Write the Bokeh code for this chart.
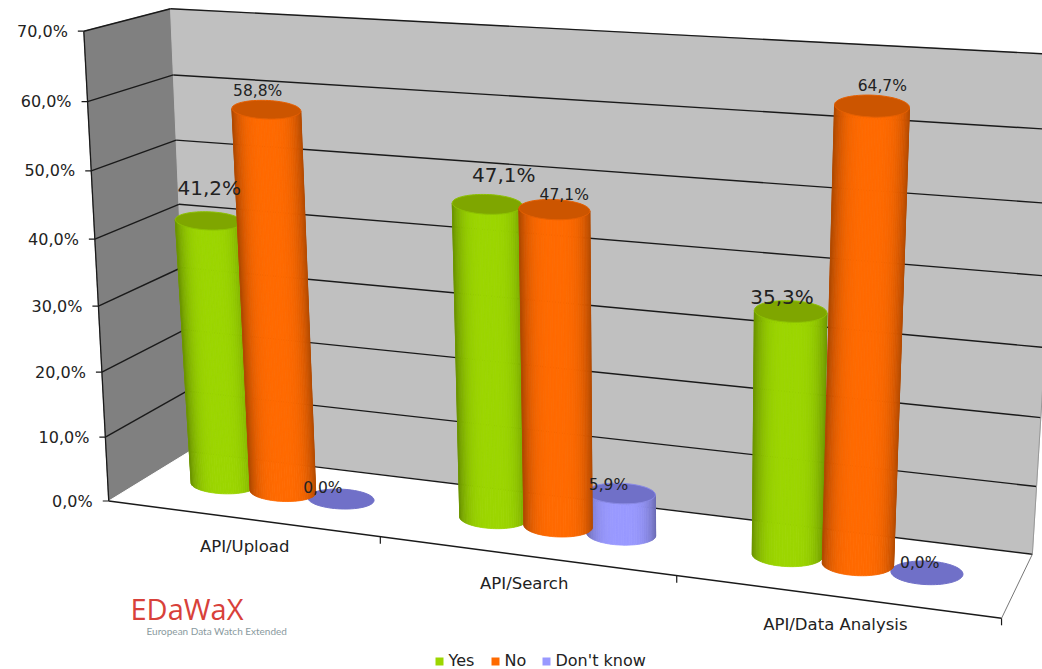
import numpy as np
from bokeh.embed import file_html
from bokeh.models import ColumnDataSource, Range1d
from bokeh.plotting import figure
from bokeh.resources import INLINE

# --- chart data -----------------------------------------------------------
categories = ["API/Upload", "API/Search", "API/Data Analysis"]
series_names = ["Yes", "No", "Don't know"]
yes_values = [41.2, 47.1, 35.3]
no_values = [58.8, 47.1, 64.7]
dont_know_values = [0.0, 5.9, 0.0]
tick_values = [0, 10, 20, 30, 40, 50, 60, 70]
tick_labels = ["0,0%", "10,0%", "20,0%", "30,0%", "40,0%", "50,0%", "60,0%", "70,0%"]

# --- styling --------------------------------------------------------------
BODY = {"Yes": (156, 214, 0), "No": (255, 106, 0), "Don't know": (153, 153, 255)}
CAP = {"Yes": (127, 166, 0), "No": (204, 85, 0), "Don't know": (112, 112, 200)}
FONT = "DejaVu Sans"
INK = "#222222"
SIZE_BIG, SIZE_SMALL = "20px", "15.5px"
# (dx, dy, size) of each value label relative to the top of its cylinder
LABEL_PLACE = {
    (0, 0): (-4, -30, SIZE_BIG), (0, 1): (-13, -12, SIZE_SMALL), (0, 2): (-18, -9, SIZE_SMALL),
    (1, 0): (12, -25, SIZE_BIG), (1, 1): (5.5, -10.5, SIZE_SMALL), (1, 2): (-13, -8, SIZE_SMALL),
    (2, 0): (-13, -12, SIZE_BIG), (2, 1): (6, -13, SIZE_SMALL), (2, 2): (-7, -7, SIZE_SMALL),
}
CATEGORY_DX = [3, -1, 0]
SERIES_OFFSET = [-0.23, -0.003, 0.215]
RADIUS_U, RADIUS_D, MID_DEPTH = 0.116, 0.19, 0.55

# --- perspective camera: (category, depth, value) -> canvas position -------
anchors = [
    ((0, 0, 0), (108, 500)), ((1, 0, 0), (380, 537)), ((2, 0, 0), (677, 576)),
    ((3, 0, 0), (1000, 618)), ((0, 1, 0), (189, 451)), ((3, 1, 0), (1032, 553)),
    ((0, 0, 70), (84, 31)), ((0, 1, 70), (169, 9)), ((3, 1, 70), (1063, 54)),
    ((0, 1, 40), (179, 204)), ((0, 0, 40), (94, 237)),
]
rows, rhs = [], []
for (a, b, c), (sx, sy) in anchors:
    rows.append([a, b, c, 1, 0, 0, 0, 0, -sx * a, -sx * b, -sx * c])
    rows.append([0, 0, 0, 0, a, b, c, 1, -sy * a, -sy * b, -sy * c])
    rhs += [sx, sy]
camera = np.append(np.linalg.lstsq(np.array(rows, float), np.array(rhs, float), rcond=None)[0], 1).reshape(3, 4)


def pt(u, d, v):
    w = camera @ np.array([float(u), float(d), float(v), 1.0])
    return float(w[0] / w[2]), float(w[1] / w[2])


def rgb(c, f=1.0):
    return "#%02x%02x%02x" % tuple(int(min(255, round(ch * f))) for ch in c)


p = figure(width=1042, height=669, output_backend="svg", toolbar_location=None,
           x_range=Range1d(0, 1042), y_range=Range1d(669, 0), min_border=0,
           outline_line_color=None, background_fill_color="white", border_fill_color="white")
p.axis.visible = False
p.grid.visible = False


def poly(corners, fill, line=None, width=1.0):
    xs, ys = zip(*[pt(*c) for c in corners])
    p.patch(list(xs), list(ys), fill_color=fill, line_color=line or fill, line_width=width)


def seg(a, b, color="#1a1a1a", width=1.4):
    (x0, y0), (x1, y1) = pt(*a), pt(*b)
    p.line([x0, x1], [y0, y1], line_color=color, line_width=width)


# walls and floor
top = max(tick_values)
poly([(0, 0, 0), (0, 1, 0), (0, 1, top), (0, 0, top)], "#808080")
poly([(0, 1, 0), (3, 1, 0), (3, 1, top), (0, 1, top)], "#c0c0c0")
poly([(0, 0, 0), (3, 0, 0), (3, 1, 0), (0, 1, 0)], "#ffffff")

for tv, label in zip(tick_values, tick_labels):
    if tv > 0:
        seg((0, 0, tv), (0, 1, tv))
    seg((0, 1, tv), (3, 1, tv))
    x0, y0 = pt(0, 0, tv)
    p.line([x0 - 6, x0], [y0, y0], line_color="#1a1a1a", line_width=1.2)
    p.text([x0 - 16], [y0], text=[label], text_align="right", text_baseline="middle",
           text_font={"value": FONT}, text_font_size="16px", text_color=INK)

seg((0, 0, 0), (0, 0, top), width=1.3)
seg((0, 0, 0), (3, 0, 0), width=1.5)
seg((3, 0, 0), (3, 1, 0), color="#777777", width=1.0)
seg((3, 1, 0), (3, 1, top), color="#999999", width=1.0)
for c in range(1, 4):
    x0, y0 = pt(c, 0, 0)
    p.line([x0, x0], [y0, y0 + 7], line_color="#1a1a1a", line_width=1.2)

for c, name in enumerate(categories):
    x0, y0 = pt(c + 0.5, 0, 0)
    p.text([x0 + CATEGORY_DX[c]], [y0 + 28], text=[name], text_align="center", text_baseline="middle",
           text_font={"value": FONT}, text_font_size="16.5px", text_color=INK)


# cylinders: each ring is an ellipse on the canvas, centred on the projected axis
def ring_frame(u0, v):
    """Centre, half width, half height and tilt of the ring at height v."""
    xl, yl = pt(u0 - RADIUS_U, MID_DEPTH, 0)
    xr, yr = pt(u0 + RADIUS_U, MID_DEPTH, 0)
    xcl, ycl = pt(u0 - RADIUS_U, MID_DEPTH, v)
    xcr, ycr = pt(u0 + RADIUS_U, MID_DEPTH, v)
    _, y_front = pt(u0, MID_DEPTH - RADIUS_D, 0)
    _, y_back = pt(u0, MID_DEPTH + RADIUS_D, 0)
    half_h = (y_front - y_back) / 2
    cx, cy = (xcl + xcr) / 2, (ycl + ycr) / 2
    # perspective widening of the columns is gentler than the floor's
    half_w = 33 + ((xr - xl) / 2 - 31) * 0.5
    if v > 0:
        cx -= 4.5 * min(1.0, v / 30.0)
        cy += 0.5 + 7 * (v / 65.0) ** 2
        half_w += 1.8 * v / 65.0
        half_h *= 0.95
    else:
        cy += 2.5
    tilt = 0.3 * (yr - yl) / (xr - xl)
    return cx, cy, half_w, half_h, tilt


def ring_points(frame, theta):
    cx, cy, half_w, half_h, tilt = frame
    dx = half_w * np.cos(theta)
    return cx + dx, cy + half_h * np.sin(theta) + tilt * dx


def cylinder(u0, v, name):
    upper = ring_frame(u0, v)
    if v > 0:
        lower = ring_frame(u0, 0.0)
        edges = np.linspace(0, np.pi, 41)
        xs, ys, colors = [], [], []
        for a, b in zip(edges[:-1], edges[1:]):
            shade = 1.0 - 0.30 * abs(np.cos((a + b) / 2)) ** 3.5
            th = np.array([a, b])
            xb, yb = ring_points(lower, th)
            xt, yt = ring_points(upper, th)
            xs.append([xb[0], xb[1], xt[1], xt[0]])
            ys.append([yb[0], yb[1], yt[1], yt[0]])
            colors.append(rgb(BODY[name], shade))
        p.patches("xs", "ys", fill_color="c", line_color="c", line_width=0.8,
                  source=ColumnDataSource(dict(xs=xs, ys=ys, c=colors)))
    ex, ey = ring_points(upper, np.linspace(0, 2 * np.pi, 72))
    rim = rgb(BODY[name], 0.9) if v > 0 else rgb(CAP[name])
    p.patch(list(ex), list(ey), fill_color=rgb(CAP[name]), line_color=rim, line_width=1.0)


all_values = [yes_values, no_values, dont_know_values]
for c in range(len(categories)):
    for s in (2, 0, 1):
        cylinder(c + 0.5 + SERIES_OFFSET[s], all_values[s][c], series_names[s])

# value labels sit above everything else
for c in range(len(categories)):
    for s, name in enumerate(series_names):
        v = all_values[s][c]
        x0, y0 = pt(c + 0.5 + SERIES_OFFSET[s], MID_DEPTH, v)
        dx, dy, size = LABEL_PLACE[(c, s)]
        p.text([x0 + dx], [y0 + dy], text=[f"{v:.1f}%".replace(".", ",")], text_align="center",
               text_baseline="middle", text_font={"value": FONT}, text_font_size=size, text_color=INK)

# legend
legend_x = [439, 495, 546]
for lx, name in zip(legend_x, series_names):
    p.scatter([lx], [661], marker="square", size=8, fill_color=rgb(BODY[name]), line_color=None)
    p.text([lx + 9], [659.5], text=[name], text_align="left", text_baseline="middle",
           text_font={"value": FONT}, text_font_size="16px", text_color=INK)

# project logo
p.text([130], [608], text=["EDaWaX"], text_align="left", text_baseline="middle",
       text_font={"value": "Open Sans"}, text_font_size="29px", text_color="#d8413a")
p.text([146], [630], text=["European Data Watch Extended"], text_align="left", text_baseline="middle",
       text_font={"value": "Lato"}, text_font_size="10px", text_color="#8a9a9e")

open("out.html", "w").write(file_html(p, INLINE))
